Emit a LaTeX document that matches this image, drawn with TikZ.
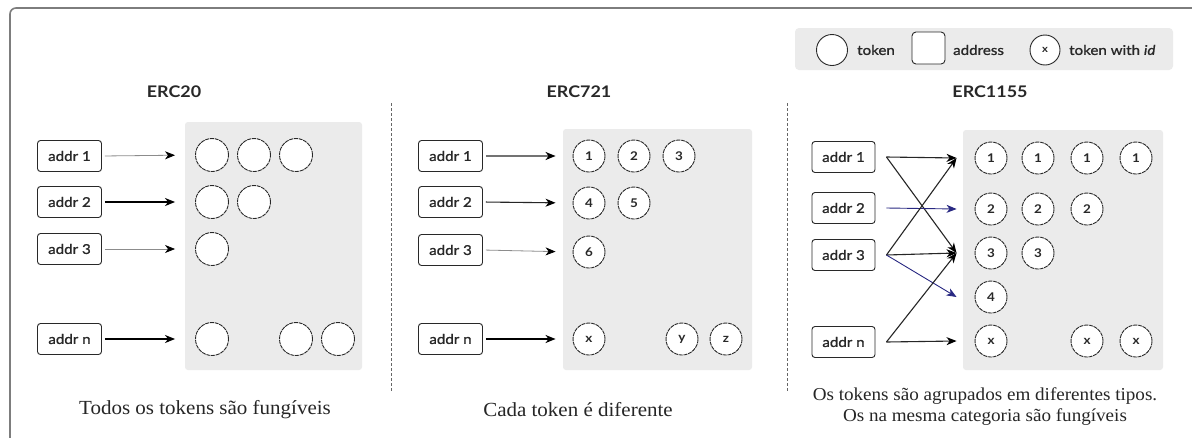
\documentclass[tikz,border=0pt]{standalone}
\usepackage{fontspec}
\setmainfont[FakeStretch=1.05]{Liberation Serif}
\setsansfont[FakeStretch=1.12]{Lato}
\newfontfamily\medsans[FakeStretch=1.12, FakeBold=1.0]{Lato}
\usetikzlibrary{arrows.meta,calc}
\definecolor{panel}{RGB}{235,235,235}
\definecolor{framecol}{RGB}{125,125,125}
\definecolor{navy}{RGB}{40,40,130}
\definecolor{ink}{RGB}{40,40,40}
\begin{document}
\begin{tikzpicture}[x=1pt,y=-1pt,
  addrbox/.style={draw=ink, line width=0.9pt, rounded corners=3pt, fill=white,
    minimum width=64pt, minimum height=31pt, inner sep=0pt, text=ink,
    font=\medsans\fontsize{13.5}{15}\selectfont},
  tokc/.style={circle, draw=ink, fill=white, line width=0.9pt, minimum size=33pt, inner sep=0pt,
    text=ink, font=\sffamily\bfseries\fontsize{12}{13}\selectfont},
  dtok/.style={tokc, dash pattern=on 4pt off 0.8pt},
  stokc/.style={dtok, minimum size=32pt},
  panelbox/.style={fill=panel, rounded corners=3pt},
  ttltxt/.style={text=ink, font=\sffamily\bfseries\fontsize{16}{18}\selectfont},
  captxt/.style={align=center, text=black!85, font=\fontsize{20}{21}\selectfont},
  legtxt/.style={text=ink, anchor=west, inner sep=0pt, font=\medsans\fontsize{13.5}{15}\selectfont},
  arrtip/.style={-{Stealth[length=10pt,width=8pt,inset=3pt,black]}},
  thinarr/.style={arrtip, draw=black!45, line width=0.8pt},
  thickarr/.style={arrtip, draw=black, line width=1.5pt},
  midarr/.style={arrtip, draw=black!85, line width=1.1pt},
  bluearr/.style={-{Stealth[length=10pt,width=8pt,inset=3pt,navy]}, draw=navy, line width=0.9pt},
  divider/.style={draw=black!60, line width=1pt, dash pattern=on 3pt off 2pt}
]
\useasboundingbox (0,0) rectangle (1192,437);
\clip (0,0) rectangle (1192,437);
\fill[white] (0,0) rectangle (1192,437);
\draw[framecol, line width=1.6pt, rounded corners=6pt] (10,8) rectangle (1230,480);

% ---------------- ERC20 ----------------
\node[ttltxt] (t20) at (174,92) {ERC20};
\fill[panelbox] (185,122) rectangle (362,370);
\node[addrbox] (e1) at (69.5,156) {addr 1};
\node[addrbox] (e2) at (69.5,202) {addr 2};
\node[addrbox] (e3) at (69.5,249) {addr 3};
\node[addrbox] (en) at (69.5,339) {addr n};
\node[dtok] (f11) at (212,155) {};
\node[dtok] (f12) at (254,155) {};
\node[dtok] (f13) at (296,155) {};
\node[dtok] (f21) at (212,202) {};
\node[dtok] (f22) at (254,202) {};
\node[dtok] (f31) at (212,249) {};
\node[dtok] (fn1) at (212,339) {};
\node[dtok] (fn2) at (296,339) {};
\node[dtok] (fn3) at (338,339) {};
\draw[thinarr, shorten <=3pt, shorten >=20pt] (e1.east) -- (f11.west);
\draw[thickarr, shorten <=3pt, shorten >=20pt] (e2.east) -- (f21.west);
\draw[thinarr, shorten <=3pt, shorten >=20pt] (e3.east) -- (f31.west);
\draw[thickarr, shorten <=3pt, shorten >=20pt] (en.east) -- (fn1.west);
\node[captxt] (c20) at (205,410) {Todos os tokens são fungíveis};

\draw[divider] (391,103) -- (391,392);

% ---------------- ERC721 ----------------
\node[ttltxt] (t721) at (579,92) {ERC721};
\fill[panelbox] (563,129) rectangle (752,370);
\node[addrbox] (m1) at (450.5,156) {addr 1};
\node[addrbox] (m2) at (450.5,202) {addr 2};
\node[addrbox] (m3) at (450.5,250) {addr 3};
\node[addrbox] (mn) at (450.5,339) {addr n};
\node[stokc] (n1) at (589,156) {1};
\node[stokc] (n2) at (634,156) {2};
\node[stokc] (n3) at (679,156) {3};
\node[stokc] (n4) at (589,203) {4};
\node[stokc] (n5) at (634,203) {5};
\node[stokc] (n6) at (589,252) {6};
\node[stokc] (nx) at (589,339) {x};
\node[stokc] (ny) at (682,339) {y};
\node[stokc] (nz) at (726,339) {z};
\draw[thickarr, draw=black!55, shorten <=3pt, shorten >=17pt] (m1.east) -- (n1.west);
\draw[midarr, shorten <=3pt, shorten >=17pt] (m2.east) -- (n4.west);
\draw[thinarr, shorten <=3pt, shorten >=17pt] (m3.east) -- (n6.west);
\draw[thickarr, shorten <=3pt, shorten >=17pt] (mn.east) -- (nx.west);
\node[captxt] (c721) at (578,410) {Cada token é diferente};

\draw[divider] (787,103) -- (787,392);

% ---------------- Legend ----------------
\fill[panelbox, rounded corners=4pt] (795,28) rectangle (1173,70);
\node[tokc, minimum size=31pt] (lt) at (832,50) {};
\node[legtxt] (ltt) at (857,50) {token};
\node[draw=ink, fill=white, line width=0.9pt, rounded corners=4pt, minimum width=33pt, minimum height=32pt] (la) at (928.5,48) {};
\node[legtxt] (lat) at (953,50) {address};
\node[tokc, minimum size=30pt, font=\sffamily\bfseries\fontsize{10}{11}\selectfont] (li) at (1045,50) {x};
\node[legtxt] (lit) at (1069,50) {token with \textit{id}};

% ---------------- ERC1155 ----------------
\node[ttltxt] (t1155) at (990,92) {ERC1155};
\fill[panelbox] (963,130) rectangle (1163,370);
\node[addrbox, minimum width=63pt] (b1) at (843.5,157) {addr 1};
\node[addrbox, minimum width=63pt] (b2) at (843.5,208) {addr 2};
\node[addrbox, minimum width=63pt] (b3) at (843.5,255) {addr 3};
\node[addrbox, minimum width=63pt] (bn) at (843.5,342) {addr n};
\node[stokc] (k11) at (991,158) {1};
\node[stokc] (k12) at (1038,158) {1};
\node[stokc] (k13) at (1087,158) {1};
\node[stokc] (k14) at (1136,158) {1};
\node[stokc] (k21) at (991,209) {2};
\node[stokc] (k22) at (1038,209) {2};
\node[stokc] (k23) at (1087,209) {2};
\node[stokc] (k31) at (991,253) {3};
\node[stokc] (k32) at (1038,253) {3};
\node[stokc] (k41) at (991,297) {4};
\node[stokc] (k51) at (991,341) {x};
\node[stokc] (k53) at (1087,341) {x};
\node[stokc] (k54) at (1136,341) {x};
\draw[midarr] ([xshift=11pt]b1.east) -- ([xshift=-18pt]k11.west);
\draw[midarr] ([xshift=11pt]b1.east) -- ([xshift=-18pt]k31.west);
\draw[bluearr] ([xshift=11pt]b2.east) -- ([xshift=-18pt]k21.west);
\draw[midarr] ([xshift=11pt]b3.east) -- ([xshift=-18pt]k11.west);
\draw[midarr] ([xshift=11pt]b3.east) -- ([xshift=-18pt]k31.west);
\draw[bluearr] ([xshift=11pt]b3.east) -- ([xshift=-18pt]k41.west);
\draw[midarr] ([xshift=11pt]bn.east) -- ([xshift=-18pt]k31.west);
\draw[midarr] ([xshift=11pt]bn.east) -- ([xshift=-18pt]k51.west);
\node[captxt, font=\fontsize{18.2}{21}\selectfont] (c1155) at (985,407) {Os tokens são agrupados em diferentes tipos.\\Os na mesma categoria são fungíveis};
\end{tikzpicture}
\end{document}
